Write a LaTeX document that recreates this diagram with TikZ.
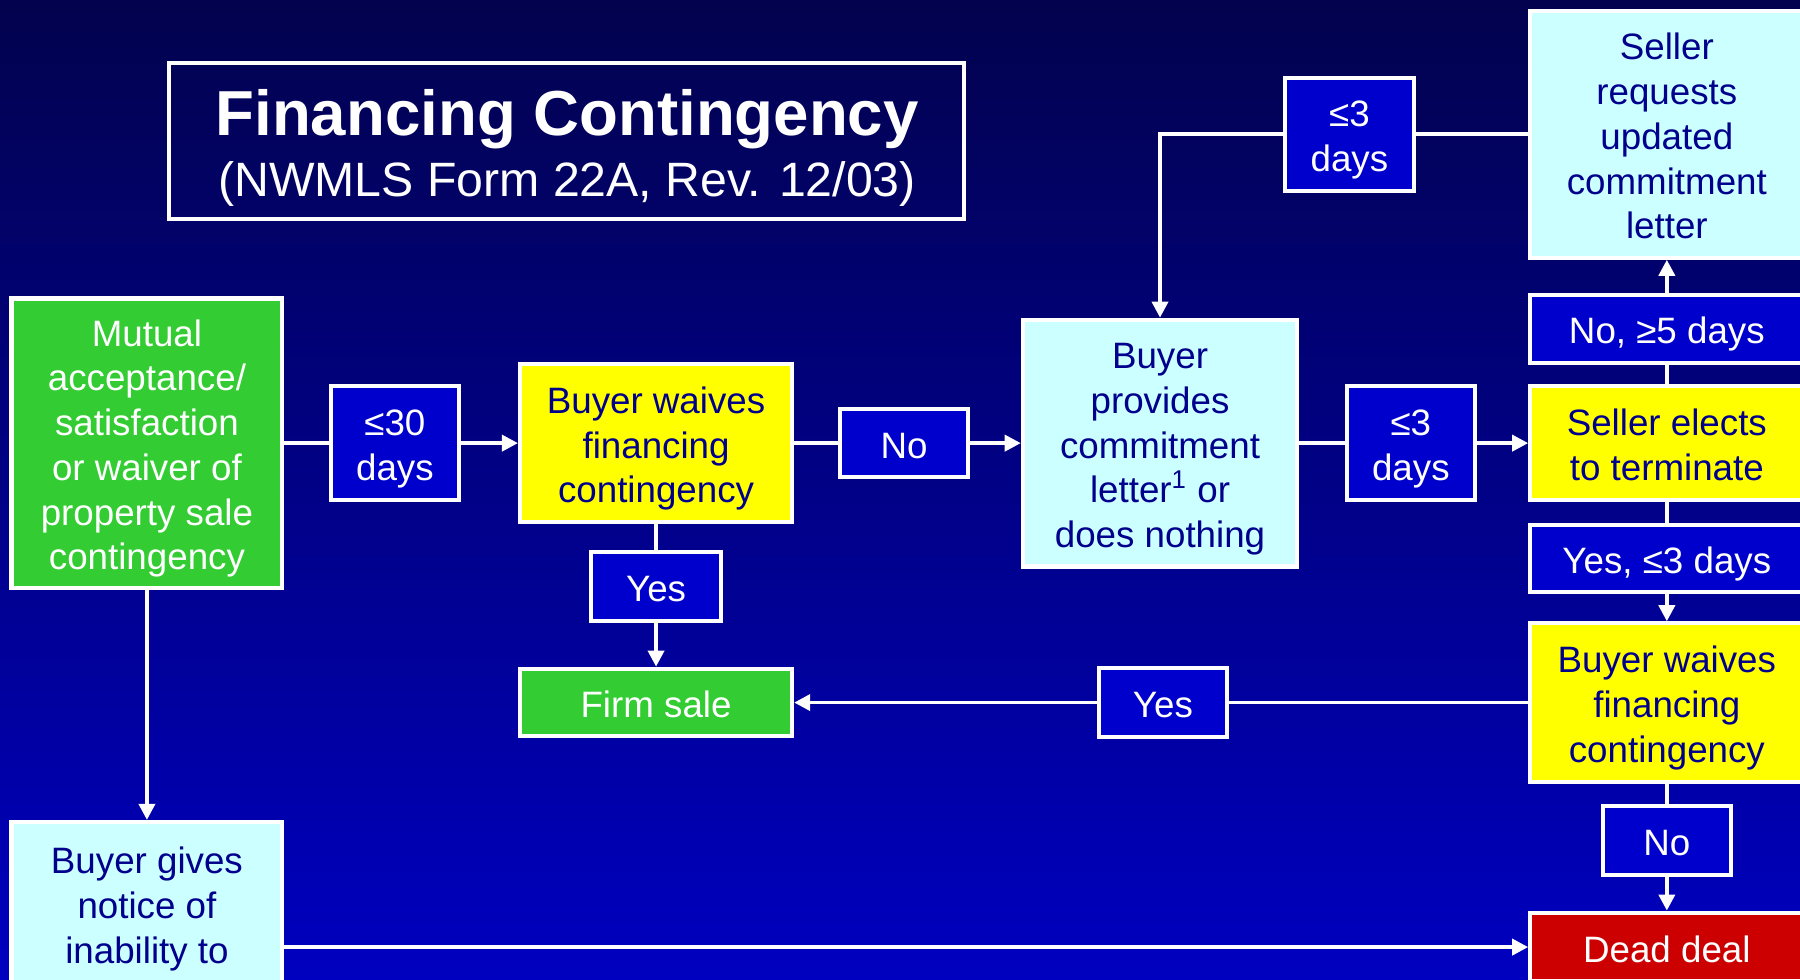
\documentclass[tikz,border=0pt]{standalone}
\usepackage{fontspec}
\setmainfont{Liberation Sans}
\usetikzlibrary{arrows.meta}
\definecolor{bgtop}{RGB}{2,2,78}
\definecolor{bgbot}{RGB}{0,0,192}
\definecolor{grn}{RGB}{51,204,51}
\definecolor{yel}{RGB}{255,255,0}
\definecolor{cyn}{RGB}{204,255,255}
\definecolor{lblue}{RGB}{0,0,204}
\definecolor{dred}{RGB}{204,0,0}
\definecolor{navytxt}{RGB}{0,0,140}
\tikzset{
  box/.style={draw=white, line width=1.8pt, align=center, inner sep=0pt,
    font=\fontsize{16}{19.5}\selectfont, text depth=3.5pt},
  one/.style={text height=16.5pt},
  two/.style={text height=36pt},
  three/.style={text height=55.5pt},
  four/.style={text height=75pt},
  five/.style={text height=94.5pt},
  six/.style={text height=114pt},
  gbox/.style={box, fill=grn, text=white},
  ybox/.style={box, fill=yel, text=navytxt},
  cbox/.style={box, fill=cyn, text=navytxt},
  lbox/.style={box, fill=lblue, text=white},
  rbox/.style={box, fill=dred, text=white},
  tbox/.style={draw=white, line width=1.8pt, inner sep=0pt},
  conn/.style={draw=white, line width=1.6pt},
  arr/.style={conn, -{Triangle[length=7pt,width=7pt]}},
}
\begin{document}
\begin{tikzpicture}[x=0.5pt,y=-0.5pt]
\useasboundingbox (0,0) rectangle (1568,853);
\shade[top color=bgtop, bottom color=bgbot] (0,0) rectangle (1568,853);
\clip (0,0) rectangle (1568,853);

% title
\node[tbox, minimum width=346.5pt, minimum height=68pt] (title) at (493.5,123) {};
\node[text=white, inner sep=0pt, font=\fontsize{27.7}{30}\selectfont\bfseries] (t1) at (494,104) {Financing Contingency};
\node[text=white, inner sep=0pt, font=\fontsize{21}{24}\selectfont] (t2) at (494,160) {(NWMLS Form 22A, Rev. 12/03)};

% boxes
\node[gbox, six, minimum width=118pt, minimum height=126pt] (mutual) at (128,386) {Mutual\\acceptance/\\satisfaction\\or waiver of\\property sale\\contingency};
\node[lbox, two, minimum width=56pt, minimum height=49.5pt] (d30) at (344,386) {≤30\\days};
\node[ybox, three, minimum width=118.5pt, minimum height=69pt] (bw1) at (571.5,386) {Buyer waives\\financing\\contingency};
\node[lbox, one, minimum width=55.5pt, minimum height=29.5pt] (no1) at (787.5,386) {No};
\node[cbox, five, minimum width=119.5pt, minimum height=107.5pt] (bp) at (1010.5,386) {Buyer\\provides\\commitment\\letter\textsuperscript{1} or\\does nothing};
\node[lbox, two, minimum width=56pt, minimum height=49.5pt] (d3r) at (1229,386) {≤3\\days};
\node[ybox, two, minimum width=119pt, minimum height=49.5pt] (se) at (1452,386) {Seller elects\\to terminate};
\node[lbox, one, minimum width=119pt, minimum height=29.5pt] (no5) at (1452,286.5) {No, ≥5 days};
\node[cbox, five, minimum width=119pt, minimum height=107.5pt] (sr) at (1452,117) {Seller\\requests\\updated\\commitment\\letter};
\node[lbox, two, minimum width=56.5pt, minimum height=49pt] (d3t) at (1175.5,117) {≤3\\days};
\node[lbox, one, minimum width=119pt, minimum height=29.5pt] (yes3) at (1452,486.5) {Yes, ≤3 days};
\node[ybox, three, minimum width=119pt, minimum height=69pt] (bw2) at (1452,612) {Buyer waives\\financing\\contingency};
\node[lbox, one, minimum width=56pt, minimum height=30pt] (yesm) at (1013,612) {Yes};
\node[gbox, one, minimum width=118.5pt, minimum height=29.5pt] (firm) at (571.5,612) {Firm sale};
\node[lbox, one, minimum width=56.5pt, minimum height=30pt] (yes1) at (571.5,511) {Yes};
\node[lbox, one, minimum width=56pt, minimum height=30pt] (no2) at (1452,732) {No};
\node[rbox, one, minimum width=119pt, minimum height=30pt] (dead) at (1452,825) {Dead deal};
\node[cbox, four, minimum width=118pt, minimum height=90.5pt] (notice) at (128,806.5) {Buyer gives\\notice of\\inability to\\obtain};

% connectors
\draw[conn] (mutual) -- (d30);
\draw[arr] (d30) -- (bw1);
\draw[conn] (bw1) -- (no1);
\draw[arr] (no1) -- (bp);
\draw[conn] (bp) -- (d3r);
\draw[arr] (d3r) -- (se);
\draw[conn] (se) -- (no5);
\draw[arr] (no5) -- (sr);
\draw[conn] (sr) -- (d3t);
\draw[arr] (d3t.west) -| (bp.north);
\draw[conn] (se) -- (yes3);
\draw[arr] (yes3) -- (bw2);
\draw[conn] (bw2) -- (yesm);
\draw[arr] (yesm) -- (firm);
\draw[conn] (bw2) -- (no2);
\draw[arr] (no2) -- (dead);
\draw[conn] (bw1) -- (yes1);
\draw[arr] (yes1) -- (firm);
\draw[arr] (mutual) -- (notice);
\draw[arr] (notice.east |- dead.west) -- (dead.west);
\end{tikzpicture}
\end{document}
